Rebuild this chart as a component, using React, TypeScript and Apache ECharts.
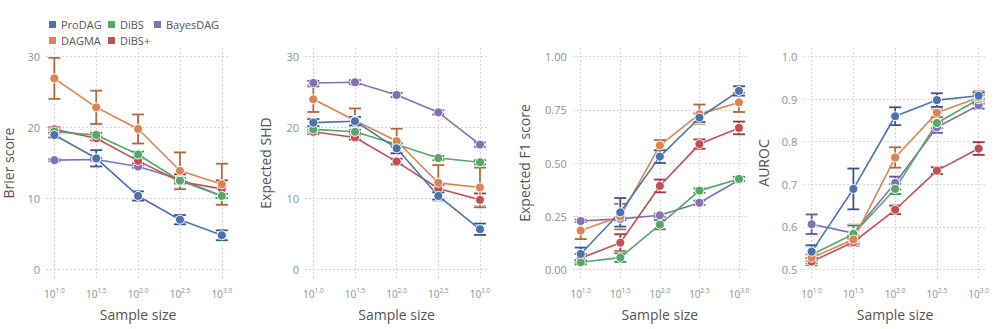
import React, { useEffect, useRef } from "react";
import * as echarts from "echarts";

const exponents = [1.0, 1.5, 2.0, 2.5, 3.0];
const methods = ["ProDAG", "DAGMA", "DiBS", "DiBS+", "BayesDAG"];
const colors = ["#4c72b0", "#dd8452", "#55a868", "#c44e52", "#8172b3"];
const errColors = ["#34558f", "#b3673c", "#3b8a50", "#a2363b", "#65579b"];

// Brier score
const brierProDAG = [18.95, 15.66, 10.35, 7.0, 4.8];
const brierProDAGErr = [0.35, 1.15, 0.65, 0.65, 0.7];
const brierDAGMA = [26.95, 22.86, 19.8, 13.9, 12.0];
const brierDAGMAErr = [2.9, 2.35, 2.05, 2.6, 2.9];
const brierDiBS = [19.43, 18.96, 16.2, 12.5, 10.35];
const brierDiBSErr = [0.3, 0.3, 0.4, 0.4, 0.3];
const brierDiBSPlus = [19.75, 18.5, 15.3, 12.4, 11.35];
const brierDiBSPlusErr = [0.3, 0.3, 0.35, 1.0, 1.2];
const brierBayesDAG = [15.4, 15.5, 14.5, 12.7, 10.35];
const brierBayesDAGErr = [0.15, 0.2, 0.2, 0.3, 0.3];

// Expected SHD
const shdProDAG = [20.7, 20.9, 17.07, 10.35, 5.65];
const shdProDAGErr = [0.5, 0.6, 0.7, 0.5, 0.8];
const shdDAGMA = [24.0, 21.0, 18.1, 12.2, 11.55];
const shdDAGMAErr = [1.8, 1.7, 1.75, 2.5, 2.8];
const shdDiBS = [19.75, 19.4, 17.6, 15.7, 15.1];
const shdDiBSErr = [0.3, 0.3, 0.3, 0.3, 0.3];
const shdDiBSPlus = [19.4, 18.6, 15.2, 11.4, 9.8];
const shdDiBSPlusErr = [0.3, 0.3, 0.4, 0.5, 0.9];
const shdBayesDAG = [26.3, 26.4, 24.6, 22.15, 17.6];
const shdBayesDAGErr = [0.3, 0.3, 0.3, 0.3, 0.3];

// Expected F1 score
const f1ProDAG = [0.072, 0.268, 0.53, 0.713, 0.839];
const f1ProDAGErr = [0.03, 0.067, 0.03, 0.02, 0.022];
const f1DAGMA = [0.182, 0.248, 0.583, 0.73, 0.785];
const f1DAGMAErr = [0.04, 0.06, 0.025, 0.045, 0.045];
const f1DiBS = [0.033, 0.055, 0.21, 0.37, 0.425];
const f1DiBSErr = [0.01, 0.02, 0.022, 0.01, 0.01];
const f1DiBSPlus = [0.052, 0.125, 0.392, 0.589, 0.665];
const f1DiBSPlusErr = [0.02, 0.04, 0.03, 0.022, 0.03];
const f1BayesDAG = [0.227, 0.237, 0.254, 0.313, 0.42];
const f1BayesDAGErr = [0.006, 0.006, 0.008, 0.01, 0.01];

// AUROC
const aurocProDAG = [0.5415, 0.689, 0.86, 0.898, 0.908];
const aurocProDAGErr = [0.015, 0.048, 0.021, 0.016, 0.008];
const aurocDAGMA = [0.527, 0.57, 0.763, 0.868, 0.904];
const aurocDAGMAErr = [0.008, 0.01, 0.024, 0.01, 0.015];
const aurocDiBS = [0.534, 0.583, 0.689, 0.844, 0.9];
const aurocDiBSErr = [0.02, 0.02, 0.012, 0.012, 0.01];
const aurocDiBSPlus = [0.518, 0.564, 0.64, 0.732, 0.784];
const aurocDiBSPlusErr = [0.008, 0.008, 0.01, 0.008, 0.015];
const aurocBayesDAG = [0.606, 0.585, 0.703, 0.834, 0.886];
const aurocBayesDAGErr = [0.023, 0.02, 0.015, 0.013, 0.008];

const yTicksCount = [0, 10, 20, 30];
const yTicksF1 = [0, 0.25, 0.5, 0.75, 1.0];
const yTicksAuroc = [0.5, 0.6, 0.7, 0.8, 0.9, 1.0];

const panels = [
  {
    title: "Brier score",
    means: [brierProDAG, brierDAGMA, brierDiBS, brierDiBSPlus, brierBayesDAG],
    errs: [brierProDAGErr, brierDAGMAErr, brierDiBSErr, brierDiBSPlusErr, brierBayesDAGErr],
    yMin: -1.23, yMax: 31.23, ticks: yTicksCount, fmt: (v: number) => String(v),
    left: 43.8, width: 186.4, nameGap: 31,
  },
  {
    title: "Expected SHD",
    means: [shdProDAG, shdDAGMA, shdDiBS, shdDiBSPlus, shdBayesDAG],
    errs: [shdProDAGErr, shdDAGMAErr, shdDiBSErr, shdDiBSPlusErr, shdBayesDAGErr],
    yMin: -1.23, yMax: 31.23, ticks: yTicksCount, fmt: (v: number) => String(v),
    left: 305, width: 183.3, nameGap: 33,
  },
  {
    title: "Expected F1 score",
    means: [f1ProDAG, f1DAGMA, f1DiBS, f1DiBSPlus, f1BayesDAG],
    errs: [f1ProDAGErr, f1DAGMAErr, f1DiBSErr, f1DiBSPlusErr, f1BayesDAGErr],
    yMin: -0.041, yMax: 1.041, ticks: yTicksF1, fmt: (v: number) => v.toFixed(2),
    left: 572.8, width: 174.1, nameGap: 41,
  },
  {
    title: "AUROC",
    means: [aurocProDAG, aurocDAGMA, aurocDiBS, aurocDiBSPlus, aurocBayesDAG],
    errs: [aurocProDAGErr, aurocDAGMAErr, aurocDiBSErr, aurocDiBSPlusErr, aurocBayesDAGErr],
    yMin: 0.4795, yMax: 1.0205, ticks: yTicksAuroc, fmt: (v: number) => v.toFixed(1),
    left: 803.3, width: 183.7, nameGap: 33,
  },
];

const FONT = "Open Sans";
const gridColor = "#d3d3e3";
const tickColor = "#8f8f99";

export default function App() {
  const ref = useRef<HTMLDivElement>(null);
  useEffect(() => {
    if (!ref.current) return;
    const chart = echarts.init(ref.current, null, { renderer: "svg" });
    const grid: any[] = [];
    const xAxis: any[] = [];
    const yAxis: any[] = [];
    const series: any[] = [];
    panels.forEach((p, pi) => {
      grid.push({ left: p.left, top: 48, width: p.width, height: 230 });
      xAxis.push({
        type: "value",
        gridIndex: pi,
        min: 0.9,
        max: 3.1,
        name: "Sample size",
        nameLocation: "middle",
        nameGap: 29,
        nameTextStyle: { fontFamily: FONT, fontSize: 14, color: "#555" },
        axisLine: { show: false },
        axisTick: { show: false, customValues: exponents },
        splitLine: { show: true, lineStyle: { color: gridColor, type: [2, 2], width: 1 } },
        axisLabel: {
          customValues: exponents,
          margin: 9,
          color: tickColor,
          formatter: (v: number) => `{a|10}{b|${v.toFixed(1)}}`,
          rich: {
            a: { fontFamily: FONT, fontSize: 10, color: tickColor, lineHeight: 14, verticalAlign: "middle" },
            b: { fontFamily: FONT, fontSize: 6.5, color: tickColor, lineHeight: 8, verticalAlign: "top" },
          },
        },
      });
      yAxis.push({
        type: "value",
        gridIndex: pi,
        min: p.yMin,
        max: p.yMax,
        name: p.title,
        nameLocation: "middle",
        nameGap: p.nameGap,
        nameTextStyle: { fontFamily: FONT, fontSize: 14, color: "#555" },
        axisLine: { show: false },
        axisTick: { show: false, customValues: p.ticks },
        splitLine: { show: true, lineStyle: { color: gridColor, type: [2, 2], width: 1 } },
        axisLabel: {
          customValues: p.ticks,
          margin: 6,
          fontFamily: FONT,
          fontSize: 11,
          color: tickColor,
          formatter: p.fmt,
        },
      });
      for (let k = methods.length - 1; k >= 0; k--) {
        const mean = p.means[k];
        const err = p.errs[k];
        const errData = exponents.map((x, i) => [x, mean[i] - err[i], mean[i] + err[i]]);
        const ec = errColors[k];
        series.push({
          type: "custom",
          name: methods[k],
          xAxisIndex: pi,
          yAxisIndex: pi,
          z: 2,
          silent: true,
          data: errData,
          encode: { x: 0, y: [1, 2] },
          renderItem: (params: any, api: any) => {
            const x = api.value(0);
            const lo = api.coord([x, api.value(1)]);
            const hi = api.coord([x, api.value(2)]);
            const hw = 6;
            const mk = (stroke: string, w: number) => [
              { type: "line", shape: { x1: lo[0], y1: lo[1], x2: hi[0], y2: hi[1] }, style: { stroke, lineWidth: w } },
              { type: "line", shape: { x1: hi[0] - hw, y1: hi[1], x2: hi[0] + hw, y2: hi[1] }, style: { stroke, lineWidth: w } },
              { type: "line", shape: { x1: lo[0] - hw, y1: lo[1], x2: lo[0] + hw, y2: lo[1] }, style: { stroke, lineWidth: w } },
            ];
            return { type: "group", children: [...mk("#ffffff", 3.6), ...mk(ec, 1.8)] };
          },
        });
        series.push({
          type: "line",
          name: methods[k],
          xAxisIndex: pi,
          yAxisIndex: pi,
          z: 3,
          data: exponents.map((x, i) => [x, mean[i]]),
          symbol: "circle",
          symbolSize: 9,
          showSymbol: true,
          lineStyle: { color: colors[k], width: 1.6 },
          itemStyle: { color: colors[k], borderColor: "#fff", borderWidth: 1 },
        });
      }
    });
    const legendBase = {
      orient: "vertical",
      top: 18,
      padding: 0,
      icon: "rect",
      itemWidth: 7,
      itemHeight: 7,
      itemGap: 3,
      textStyle: { fontFamily: FONT, fontSize: 11, color: "#555", lineHeight: 13 },
    };
    const legItem = (name: string) => ({ name, itemStyle: { color: colors[methods.indexOf(name)] } });
    const option: any = {
      animation: false,
      backgroundColor: "#fff",
      grid,
      xAxis,
      yAxis,
      series,
      legend: [
        { ...legendBase, left: 49, data: [legItem("ProDAG"), legItem("DAGMA")] },
        { ...legendBase, left: 108, data: [legItem("DiBS"), legItem("DiBS+")] },
        { ...legendBase, left: 154, data: [legItem("BayesDAG")] },
      ],
    };
    chart.setOption(option);
    return () => chart.dispose();
  }, []);
  return (
    <div
      ref={ref}
      style={{ position: "fixed", left: 0, top: 0, width: 996, height: 329, background: "#fff" }}
    />
  );
}
